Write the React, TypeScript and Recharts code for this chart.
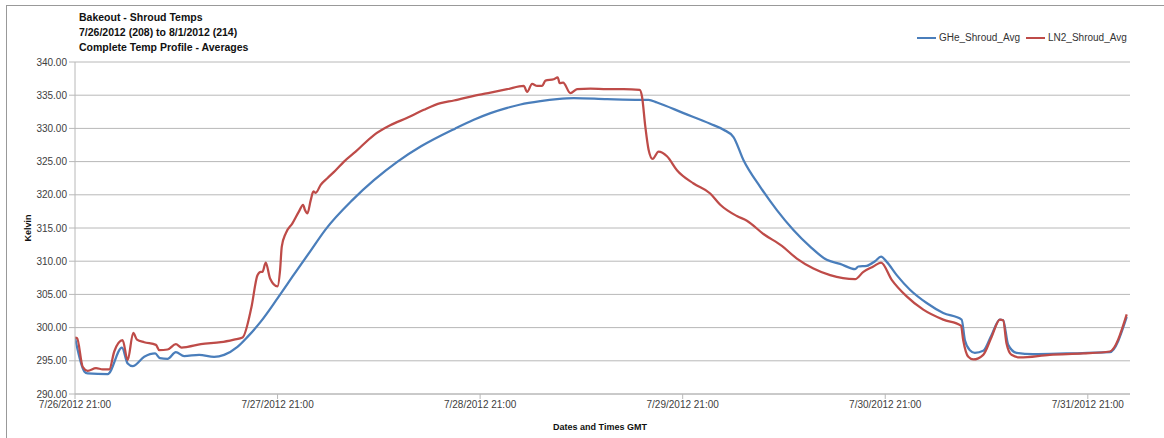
import { LineChart, Line, XAxis, YAxis, CartesianGrid } from "recharts";

const BLUE = "#4a7ebb";
const RED = "#be4b48";
const GRID = "#b8b8b8";
const AXIS_TEXT = "#404040";
const FONT = "'Liberation Sans', Arial, sans-serif";

// hours since 7/26/2012 21:00
const gheHours = [
  0, 1.1, 1.5, 3.87, 5.56, 6.24, 6.83, 8.2, 9.5, 10.06, 10.97, 11.95, 12.93, 14.71, 16.48,
  17.67, 19.25, 20.44, 22.01, 23.99, 25.95, 27.93, 29.7, 32.86, 35.42, 38.22, 41.0, 45.08,
  47.25, 49.23, 51.21, 52.78, 55.15, 57.12, 59.09, 63.04, 66.98, 67.96, 68.96, 72.1,
  75.26, 76.84, 78.02, 79.21, 81.18, 83.16, 85.12, 87.1, 89.07, 90.65, 92.43, 92.81, 93.81,
  94.79, 95.5, 96.18, 97.36, 98.93, 100.91, 102.87, 105.05, 105.44, 106.03, 106.62, 107.61,
  108.6, 109.58, 109.97, 110.57, 111.56, 113.52, 117.48, 122.6, 124.61,
];
const gheKelvin = [
  298.5, 293.4, 293.1, 293.0, 297.0, 294.6, 294.2, 295.6, 296.1, 295.4, 295.3, 296.3, 295.7,
  295.9, 295.6, 295.9, 297.1, 298.6, 300.9, 304.4, 308.0, 311.6, 314.8, 319.2, 322.2, 325.0,
  327.3, 330.0, 331.3, 332.3, 333.1, 333.6, 334.1, 334.4, 334.55, 334.4, 334.3, 334.3,
  333.9, 332.3, 330.7, 329.8, 328.7, 325.2, 321.2, 317.7, 314.7, 312.2, 310.2, 309.6, 308.8,
  309.2, 309.3, 310.0, 310.7, 309.9, 307.9, 305.7, 303.7, 302.2, 301.2, 298.1, 296.6, 296.2,
  296.5, 298.9, 301.2, 301.1, 297.4, 296.2, 296.0, 296.1, 296.3, 301.6,
];

const ln2Hours = [
  0, 0.25, 0.91, 1.5, 2.49, 3.28, 4.06, 4.65, 5.64, 6.24, 6.9, 7.34, 8.2, 9.59, 9.98, 10.97,
  11.95, 12.63, 13.34, 14.91, 17.28, 18.85, 19.85, 20.91, 21.62, 22.01, 22.21, 22.6, 23.11,
  23.99, 24.3, 24.5, 24.97, 25.76, 26.54, 27.02, 27.25, 27.54, 27.93, 28.25, 28.52, 29.11,
  29.9, 30.89, 31.87, 33.25, 35.42, 37.4, 39.37, 41.34, 43.31, 44.89, 47.25, 49.23, 51.21,
  53.17, 53.57, 54.16, 54.76, 55.35, 55.74, 56.72, 57.19, 57.43, 57.83, 58.7, 59.49, 61.06,
  63.04, 65.0, 66.9, 67.18, 67.57, 67.96, 68.44, 69.14, 70.14, 71.32, 73.29, 75.26, 76.45,
  78.42, 79.61, 81.57, 83.75, 85.53, 87.49, 89.47, 92.43, 93.41, 94.59, 95.5, 96.77, 98.54,
  100.51, 102.87, 104.97, 105.24, 105.84, 106.43, 107.61, 108.6, 109.58, 109.97, 110.37,
  110.96, 111.95, 115.5, 119.44, 122.6, 124.61,
];
const ln2Kelvin = [
  298.5, 298.4, 294.1, 293.5, 293.9, 293.7, 293.7, 296.4, 298.1, 295.1, 299.2, 298.2, 297.8,
  297.4, 296.6, 296.7, 297.5, 297.0, 297.1, 297.5, 297.8, 298.2, 298.5, 303.1, 307.9, 308.4,
  308.4, 309.8, 307.4, 306.2, 308.7, 312.2, 314.2, 315.7, 317.5, 318.5, 317.7, 317.2, 319.2,
  320.5, 320.3, 321.5, 322.5, 323.7, 325.0, 326.5, 329.0, 330.5, 331.6, 332.8, 333.8, 334.2,
  334.9, 335.4, 335.9, 336.4, 335.5, 336.7, 336.4, 336.4, 337.2, 337.4, 337.7, 336.8, 336.9,
  335.3, 335.9, 336.0, 335.9, 335.9, 335.8, 334.8, 330.3, 326.8, 325.4, 326.5, 325.8, 323.7,
  321.7, 320.2, 318.5, 316.8, 316.1, 314.1, 312.3, 310.4, 308.9, 307.9, 307.3, 308.4, 309.2,
  309.8, 307.2, 304.7, 302.7, 301.2, 300.3, 298.1, 295.6, 295.2, 295.9, 298.6, 301.2, 301.1,
  297.6, 295.9, 295.5, 295.9, 296.1, 296.4, 302.0,
];

const xTicks = [0, 24, 48, 72, 96, 120];
const xTickLabels = [
  "7/26/2012 21:00",
  "7/27/2012 21:00",
  "7/28/2012 21:00",
  "7/29/2012 21:00",
  "7/30/2012 21:00",
  "7/31/2012 21:00",
];
const yTicks = [290, 295, 300, 305, 310, 315, 320, 325, 330, 335, 340];
const titleLines = ["Bakeout - Shroud Temps", "7/26/2012 (208) to 8/1/2012 (214)", "Complete Temp Profile - Averages"];

const gheData = gheHours.map((h, i) => ({ h, v: gheKelvin[i] }));
const ln2Data = ln2Hours.map((h, i) => ({ h, v: ln2Kelvin[i] }));

function LegendItem({ color, label, left }: { color: string; label: string; left: number }) {
  return (
    <div style={{ position: "absolute", left, top: 32, display: "flex", alignItems: "center", fontSize: 10, color: "#333" }}>
      <span style={{ display: "inline-block", width: 19, height: 2, background: color, marginRight: 3 }} />
      <span>{label}</span>
    </div>
  );
}

export default function App() {
  return (
    <div
      style={{
        position: "absolute",
        left: 0,
        top: 0,
        width: 1164,
        height: 438,
        background: "#fff",
        fontFamily: FONT,
        overflow: "hidden",
      }}
    >
      <div
        style={{
          position: "absolute",
          left: 6,
          top: 5,
          width: 1170,
          height: 440,
          borderLeft: "1.5px solid #999",
          borderTop: "1.5px solid #999",
        }}
      />
      <div style={{ position: "absolute", left: 79, top: 10, fontSize: 10.5, fontWeight: 700, lineHeight: "15px", color: "#111" }}>
        {titleLines.map((t) => (
          <div key={t}>{t}</div>
        ))}
      </div>
      <LegendItem color={BLUE} label="GHe_Shroud_Avg" left={917} />
      <LegendItem color={RED} label="LN2_Shroud_Avg" left={1026} />
      <div
        style={{
          position: "absolute",
          left: 28,
          top: 228,
          transform: "translate(-50%, -50%) rotate(-90deg)",
          fontSize: 9,
          fontWeight: 700,
          color: "#111",
        }}
      >
        Kelvin
      </div>
      <div
        style={{
          position: "absolute",
          left: 600,
          top: 422,
          transform: "translateX(-50%)",
          fontSize: 9,
          fontWeight: 700,
          color: "#111",
        }}
      >
        Dates and Times GMT
      </div>
      <div style={{ position: "absolute", left: 0, top: 0 }}>
        <LineChart width={1164} height={438} margin={{ top: 62, right: 34, bottom: 14, left: 0 }}>
          <CartesianGrid stroke={GRID} vertical={false} />
          <XAxis
            type="number"
            dataKey="h"
            domain={[0, 125]}
            ticks={xTicks}
            allowDataOverflow
            tickFormatter={(v: number) => xTickLabels[xTicks.indexOf(v)] ?? ""}
            tick={{ fill: AXIS_TEXT, fontSize: 10, fontFamily: FONT }}
            tickSize={5}
            tickLine={{ stroke: GRID }}
            axisLine={{ stroke: GRID }}
            height={30}
          />
          <YAxis
            type="number"
            domain={[290, 340]}
            ticks={yTicks}
            allowDataOverflow
            tickFormatter={(v: number) => v.toFixed(2)}
            tick={{ fill: AXIS_TEXT, fontSize: 10, fontFamily: FONT }}
            tickSize={6}
            tickLine={{ stroke: GRID }}
            axisLine={{ stroke: GRID }}
            width={75}
          />
          <Line
            data={gheData}
            dataKey="v"
            type="monotone"
            stroke={BLUE}
            strokeWidth={2.25}
            dot={false}
            isAnimationActive={false}
          />
          <Line
            data={ln2Data}
            dataKey="v"
            type="monotone"
            stroke={RED}
            strokeWidth={2.25}
            dot={false}
            isAnimationActive={false}
          />
        </LineChart>
      </div>
    </div>
  );
}
